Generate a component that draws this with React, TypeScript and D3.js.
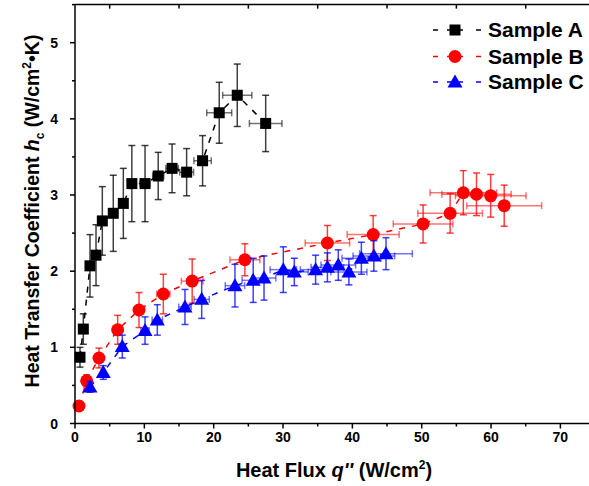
import React from "react";
import * as d3 from "d3";

// Sample A (black squares)
const aX = [0.72, 1.2, 2.16, 3.03, 3.94, 5.52, 6.97, 8.2, 10.1, 12.0, 14.0, 16.1, 18.4, 20.8, 23.4, 27.5];
const aY = [0.87, 1.24, 2.07, 2.21, 2.66, 2.76, 2.89, 3.15, 3.15, 3.25, 3.35, 3.3, 3.45, 4.08, 4.31, 3.94];
const aYErr = [0.13, 0.2, 0.41, 0.4, 0.45, 0.5, 0.46, 0.5, 0.5, 0.31, 0.32, 0.31, 0.33, 0.4, 0.41, 0.37];
const aXErr = [0.1, 0.15, 0.2, 0.25, 0.3, 0.4, 0.5, 0.6, 0.7, 0.8, 0.9, 1.0, 1.25, 1.8, 2.1, 2.35];

// Sample B (red circles)
const bX = [0.58, 1.68, 3.46, 6.15, 9.23, 12.74, 16.9, 24.5, 36.4, 43.0, 50.2, 54.1, 56.0, 57.9, 59.95, 61.9];
const bY = [0.23, 0.56, 0.86, 1.23, 1.49, 1.7, 1.87, 2.15, 2.37, 2.48, 2.62, 2.76, 3.03, 3.01, 2.99, 2.86];
const bYErr = [0.05, 0.08, 0.13, 0.19, 0.23, 0.26, 0.29, 0.21, 0.23, 0.25, 0.25, 0.26, 0.29, 0.28, 0.28, 0.27];
const bXErr = [0.1, 0.2, 0.35, 0.5, 0.7, 0.96, 1.56, 2.16, 3.2, 3.75, 4.3, 4.66, 4.8, 5.0, 5.1, 5.4];

// Sample C (blue triangles)
const cX = [2.16, 4.08, 6.82, 10.1, 11.87, 15.86, 18.27, 23.07, 25.7, 27.26, 30.04, 31.63, 34.7, 36.4, 37.97, 39.5, 41.3, 43.1, 44.85];
const cY = [0.48, 0.67, 1.01, 1.22, 1.36, 1.53, 1.63, 1.81, 1.88, 1.91, 2.02, 1.99, 2.02, 2.05, 2.08, 1.99, 2.17, 2.2, 2.23];
const cYErr = [0.07, 0.09, 0.15, 0.18, 0.2, 0.23, 0.25, 0.28, 0.29, 0.29, 0.3, 0.18, 0.19, 0.19, 0.2, 0.17, 0.21, 0.2, 0.21];
const cXErr = [0.2, 0.3, 0.45, 0.6, 0.75, 0.9, 1.1, 1.4, 1.6, 1.7, 1.9, 2.0, 2.2, 2.35, 2.5, 2.6, 2.8, 3.0, 3.8];

const xTicks = [0, 10, 20, 30, 40, 50, 60, 70];
const yTicks = [0, 1, 2, 3, 4, 5];
const legendLabels = ["Sample A", "Sample B", "Sample C"];

const W = 589;
const H = 486;
const FONT = "'Liberation Sans', Arial, Helvetica, sans-serif";

const x = d3.scaleLinear().domain([0, 75]).range([75, 75 + 75 * 6.934]);
const y = d3.scaleLinear().domain([0, 5.5]).range([423.5, 423.5 - 5.5 * 76.16]);

const series = [
  { xs: aX, ys: aY, xe: aXErr, ye: aYErr, color: "#000", bar: "#000", shape: "square" },
  { xs: bX, ys: bY, xe: bXErr, ye: bYErr, color: "#ff0000", bar: "#ff0000", shape: "circle" },
  { xs: cX, ys: cY, xe: cXErr, ye: cYErr, color: "#0000ff", bar: "#0000ff", shape: "triangle" },
];

function Marker({ shape, cx, cy, color }) {
  if (shape === "square") {
    return <rect x={cx - 5.5} y={cy - 5.5} width={11} height={11} fill={color} />;
  }
  if (shape === "circle") {
    return <circle cx={cx} cy={cy} r={6.5} fill={color} />;
  }
  return (
    <path
      d={`M${cx},${cy - 7.5}L${cx + 7.5},${cy + 5.5}L${cx - 7.5},${cy + 5.5}Z`}
      fill={color}
    />
  );
}

function Series({ s }) {
  const line = d3
    .line<number>()
    .x((d, i) => x(s.xs[i]))
    .y((d, i) => y(s.ys[i]));
  const cap = 3.5;
  return (
    <g>
      <path d={line(s.ys) || ""} fill="none" stroke={s.color} strokeWidth={1.5} strokeDasharray="6,7" />
      {s.ys.map((v, i) => {
        const px = x(s.xs[i]);
        const py = y(v);
        const y1 = y(v + s.ye[i]);
        const y2 = y(v - s.ye[i]);
        const x1 = x(s.xs[i] - s.xe[i]);
        const x2 = x(s.xs[i] + s.xe[i]);
        return (
          <g key={i} fill="none" strokeWidth={1.5}>
            <g stroke={s.bar} strokeOpacity={0.75}>
              <line x1={px} x2={px} y1={y1} y2={y2} />
              <line x1={px - cap} x2={px + cap} y1={y1} y2={y1} />
              <line x1={px - cap} x2={px + cap} y1={y2} y2={y2} />
            </g>
            <g stroke={s.bar} strokeOpacity={0.55}>
              <line x1={x1} x2={x2} y1={py} y2={py} />
              <line x1={x1} x2={x1} y1={py - cap} y2={py + cap} />
              <line x1={x2} x2={x2} y1={py - cap} y2={py + cap} />
            </g>
          </g>
        );
      })}
      {s.ys.map((v, i) => (
        <Marker key={i} shape={s.shape} cx={x(s.xs[i])} cy={y(v)} color={s.color} />
      ))}
    </g>
  );
}

export default function App() {
  const x0 = x(0);
  const y0 = y(0);
  const yTop = y(5.5);
  const xMinor = d3.range(0, 76, 5);
  const yMinor = d3.range(0, 5.51, 0.5);
  const topTicks = d3.range(5, 76, 10);
  const legY = [30, 56.5, 82];

  return (
    <svg
      width={W}
      height={H}
      style={{ position: "absolute", left: 0, top: 0, background: "#fff" }}
      fontFamily={FONT}
    >
      <rect width={W} height={H} fill="#fff" />

      {series.map((s, i) => (
        <Series key={i} s={s} />
      ))}

      {/* axes frame */}
      <g stroke="#000" strokeWidth={1.5} fill="none">
        <line x1={x0} x2={W + 5} y1={y0} y2={y0} />
        <line x1={x0} x2={W + 5} y1={yTop} y2={yTop} />
        <line x1={x0} x2={x0} y1={yTop} y2={y0} />
        {xMinor.map((t) => (
          <line key={"xm" + t} x1={x(t)} x2={x(t)} y1={y0} y2={y0 + (t % 10 === 0 ? 5 : 3)} />
        ))}
        {topTicks.map((t) => (
          <line key={"xt" + t} x1={x(t)} x2={x(t)} y1={yTop} y2={yTop + 4} />
        ))}
        {yMinor.map((t) => (
          <line
            key={"ym" + t}
            x1={x0}
            x2={x0 - (Math.abs(t - Math.round(t)) < 0.01 ? 5 : 3)}
            y1={y(t)}
            y2={y(t)}
          />
        ))}
      </g>

      <g fontSize={14} fontWeight="bold" fill="#000">
        {xTicks.map((t) => (
          <text key={"xl" + t} x={x(t)} y={442} textAnchor="middle">
            {t}
          </text>
        ))}
        {yTicks.map((t) => (
          <text key={"yl" + t} x={58} y={y(t) + 5} textAnchor="end">
            {t}
          </text>
        ))}
      </g>

      <text x={334} y={477} textAnchor="middle" fontSize={20} fontWeight="bold">
        Heat Flux <tspan fontStyle="italic">q''</tspan> (W/cm
        <tspan fontSize={12} dy={-8}>2</tspan>
        <tspan dy={8}>)</tspan>
      </text>

      <text
        transform={`translate(39,211) rotate(-90)`}
        textAnchor="middle"
        fontSize={19.5}
        fontWeight="bold"
      >
        Heat Transfer Coefficient <tspan fontStyle="italic">h</tspan>
        <tspan fontSize={12} dy={5}>c</tspan>
        <tspan dy={-5}> (W/cm</tspan>
        <tspan fontSize={12} dy={-8}>2</tspan>
        <tspan dy={8}>•K)</tspan>
      </text>

      {/* legend */}
      {series.map((s, i) => (
        <g key={"leg" + i}>
          <line x1={433} x2={438} y1={legY[i]} y2={legY[i]} stroke={s.color} strokeWidth={1.5} />
          <line x1={447} x2={463} y1={legY[i]} y2={legY[i]} stroke={s.color} strokeWidth={1.5} />
          <line x1={476} x2={481} y1={legY[i]} y2={legY[i]} stroke={s.color} strokeWidth={1.5} />
          <Marker shape={s.shape} cx={455} cy={legY[i]} color={s.color} />
          <text x={488} y={legY[i] + 7} fontSize={21} fontWeight="bold" fill="#000">
            {legendLabels[i]}
          </text>
        </g>
      ))}
    </svg>
  );
}
